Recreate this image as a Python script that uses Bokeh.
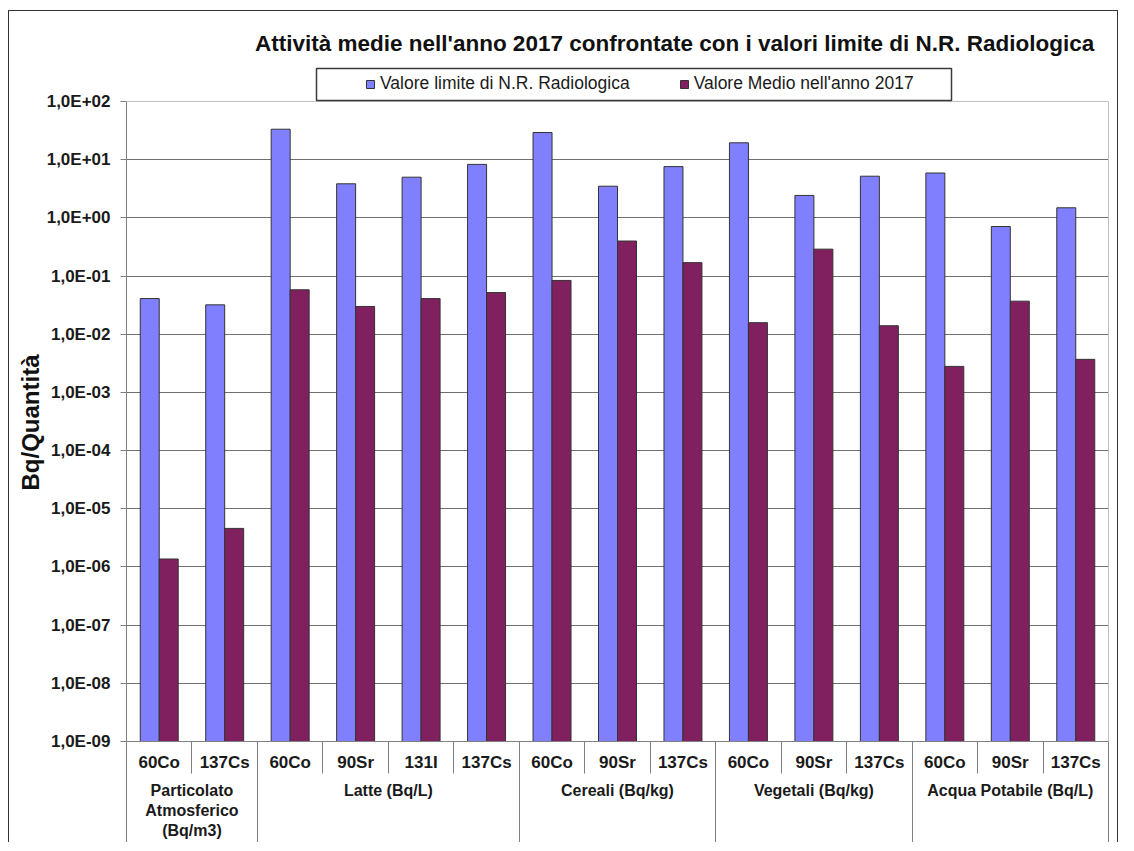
import numpy as np
from bokeh.plotting import figure
from bokeh.models import (Range1d, FixedTicker, LinearAxis, LogAxis, CustomJSTickFormatter,
                          Legend, LegendItem, Label, Title, Span, BoxAnnotation, ColumnDataSource)
from bokeh.embed import file_html
from bokeh.resources import INLINE

# ---------------- data ----------------
title_text = "Attività medie nell'anno 2017 confrontate con i valori limite  di N.R. Radiologica"
series_names = ["Valore limite di N.R. Radiologica", "Valore Medio nell'anno 2017"]
groups = ["Particolato\nAtmosferico\n(Bq/m3)", "Latte (Bq/L)", "Cereali (Bq/kg)",
          "Vegetali (Bq/kg)", "Acqua Potabile (Bq/L)"]
group_sizes = [2, 4, 3, 3, 3]
nuclides = ["60Co", "137Cs",
            "60Co", "90Sr", "131I", "137Cs",
            "60Co", "90Sr", "137Cs",
            "60Co", "90Sr", "137Cs",
            "60Co", "90Sr", "137Cs"]
limite = [0.041, 0.032,
          33.4, 3.85, 5.0, 8.3,
          29.3, 3.5, 7.6,
          19.5, 2.43, 5.2,
          5.9, 0.71, 1.49]
medio = [1.37e-6, 4.6e-6,
         0.058, 0.030, 0.041, 0.052,
         0.084, 0.40, 0.17,
         0.0158, 0.29, 0.014,
         0.0028, 0.037, 0.0037]
y_exponents = list(range(-9, 3))
y_label = "Bq/Quantità"

BLUE = "#8080FF"
PURPLE = "#80205F"
FONT = "Liberation Sans"

n = len(nuclides)
centers = np.arange(n) + 0.5
bounds = list(range(n + 1))
gb = [0] + [int(v) for v in np.cumsum(group_sizes)]
gcenters = [(gb[i] + gb[i + 1]) / 2 for i in range(len(group_sizes))]
y_lo, y_hi = 10.0 ** y_exponents[0], 10.0 ** y_exponents[-1]

# layout: plot area 640px tall for the 11 decades, plus a 101px header band inside the frame
PLOT_H, HEAD_H = 640, 101
decades = y_exponents[-1] - y_exponents[0]
y_top = 10.0 ** (y_exponents[-1] + HEAD_H * decades / PLOT_H)

src = ColumnDataSource(dict(xb=centers - 0.145, xp=centers + 0.145,
                            limite=limite, medio=medio))

p = figure(frame_width=982, frame_height=PLOT_H + HEAD_H, y_axis_type="log",
           x_range=Range1d(0, n), y_range=Range1d(y_lo, y_top),
           output_backend="svg", toolbar_location=None,
           x_axis_location=None, title_location=None,
           min_border_left=126, min_border_right=10,
           min_border_top=0, min_border_bottom=94)
p.styles = {"background": "linear-gradient(#333,#333) 8px 10px / 1px 100% no-repeat, "
                          "linear-gradient(#333,#333) 8px 10px / 100% 1px no-repeat, "
                          "linear-gradient(#333,#333) right 0px top 10px / 1px 100% no-repeat, white"}
p.background_fill_alpha = 0
p.border_fill_alpha = 0
p.outline_line_color = None

# bars
p.vbar(x="xb", top="limite", bottom=y_lo, width=0.29, source=src,
       fill_color=BLUE, line_color="#333333", line_width=1)
p.vbar(x="xp", top="medio", bottom=y_lo, width=0.29, source=src,
       fill_color=PURPLE, line_color="#333333", line_width=1)
# legend proxies (size 0 markers)
r1 = p.scatter(x="xb", y="limite", source=src, size=0, marker="square",
               fill_color=BLUE, line_color="#333333", line_width=1)
r2 = p.scatter(x="xp", y="medio", source=src, size=0, marker="square",
               fill_color=PURPLE, line_color="#333333", line_width=1)

# y axis
yt = FixedTicker(ticks=[10.0 ** k for k in y_exponents])
p.yaxis.ticker = yt
p.yaxis.bounds = (y_lo, y_hi)
p.yaxis.formatter = CustomJSTickFormatter(code="""
const e = Math.round(Math.log10(tick));
const s = e < 0 ? "-" : "+";
const a = Math.abs(e);
return "1,0E" + s + (a < 10 ? "0" + a : "" + a);
""")
p.yaxis.major_label_text_font = FONT
p.yaxis.major_label_text_font_size = "17px"
p.yaxis.major_label_text_font_style = "bold"
p.yaxis.major_label_text_color = "#1a1a1a"
p.yaxis.major_tick_out = 6
p.yaxis.major_tick_in = 0
p.yaxis.minor_tick_line_color = None
p.yaxis.major_tick_line_color = "#808080"
p.yaxis.axis_line_color = "#808080"
p.yaxis.major_label_standoff = 10

# y axis title, placed along the plot area (not the header band)
p.add_layout(Title(text=y_label, align="left", offset=251, vertical_align="bottom",
                   standoff=0, text_font=FONT, text_font_size="24px",
                   text_font_style="bold", text_color="#111111"), "left")

# right border of the plot area
rax = LogAxis(bounds=(y_lo, y_hi), ticker=FixedTicker(ticks=[]),
              axis_line_color="#c0c0c0", major_tick_line_color=None,
              minor_tick_line_color=None, major_label_text_font_size="0px")
p.add_layout(rax, "right")

p.ygrid.ticker = FixedTicker(ticks=[10.0 ** k for k in y_exponents[:-1]])
p.ygrid.grid_line_color = "#707070"
p.ygrid.grid_line_width = 1
p.xgrid.visible = False
# top border of the plot area
p.add_layout(Span(location=y_hi, dimension="width", line_color="#c0c0c0", line_width=1))

# x axis 1: nuclide labels with separators between every bar pair
ax1 = LinearAxis(ticker=FixedTicker(ticks=list(centers), minor_ticks=bounds),
                 formatter=CustomJSTickFormatter(args=dict(labels=nuclides),
                                                 code="return labels[Math.floor(tick)];"))
ax1.major_tick_in = 0
ax1.major_tick_out = 0
ax1.minor_tick_in = 0
ax1.minor_tick_out = 32
ax1.minor_tick_line_color = "#808080"
ax1.axis_line_color = "#808080"
ax1.major_label_standoff = -21
ax1.major_label_text_font = FONT
ax1.major_label_text_font_size = "17px"
ax1.major_label_text_font_style = "bold"
ax1.major_label_text_color = "#1a1a1a"
p.add_layout(ax1, "below")

# x axis 2: group labels with long separators
ax2 = LinearAxis(ticker=FixedTicker(ticks=gcenters, minor_ticks=[float(b) for b in gb]),
                 formatter=CustomJSTickFormatter(args=dict(labels=groups, centers=gcenters),
                                                 code="const i = centers.indexOf(tick); return i >= 0 ? labels[i] : '';"))
ax2.axis_line_color = None
ax2.major_tick_in = 0
ax2.major_tick_out = 0
ax2.minor_tick_in = 33
ax2.minor_tick_out = 80
ax2.minor_tick_line_color = "#808080"
ax2.major_label_standoff = -73
ax2.major_label_text_font = FONT
ax2.major_label_text_font_size = "16px"
ax2.major_label_text_font_style = "bold"
ax2.major_label_text_color = "#1a1a1a"
p.add_layout(ax2, "below")

# legend frame in the header band (screen offsets from the plot area's bottom-left)
p.add_layout(BoxAnnotation(left=190, right=825, bottom=PLOT_H + 1, top=PLOT_H + 33,
                           left_units="screen", right_units="screen",
                           bottom_units="screen", top_units="screen",
                           fill_color="white", fill_alpha=1,
                           line_color="#3a3a3a", line_alpha=1, line_width=1.5))

# legend items
legend = Legend(items=[LegendItem(label=series_names[0], renderers=[r1]),
                       LegendItem(label=series_names[1], renderers=[r2])],
                orientation="horizontal", location=(234, PLOT_H + 7),
                padding=0, spacing=44, glyph_width=20, glyph_height=20,
                label_standoff=0, margin=0,
                label_text_font=FONT, label_text_font_size="17.5px",
                label_text_color="#1a1a1a",
                border_line_color=None, background_fill_alpha=0)
p.add_layout(legend)

# chart title in the header band
p.add_layout(Label(x=974, y=PLOT_H + 58, x_units="screen", y_units="screen", text=title_text,
                   text_align="right", text_baseline="middle", text_font=FONT,
                   text_font_size="22.5px", text_font_style="bold", text_color="#111111"))

open("out.html", "w").write(file_html(p, INLINE))
